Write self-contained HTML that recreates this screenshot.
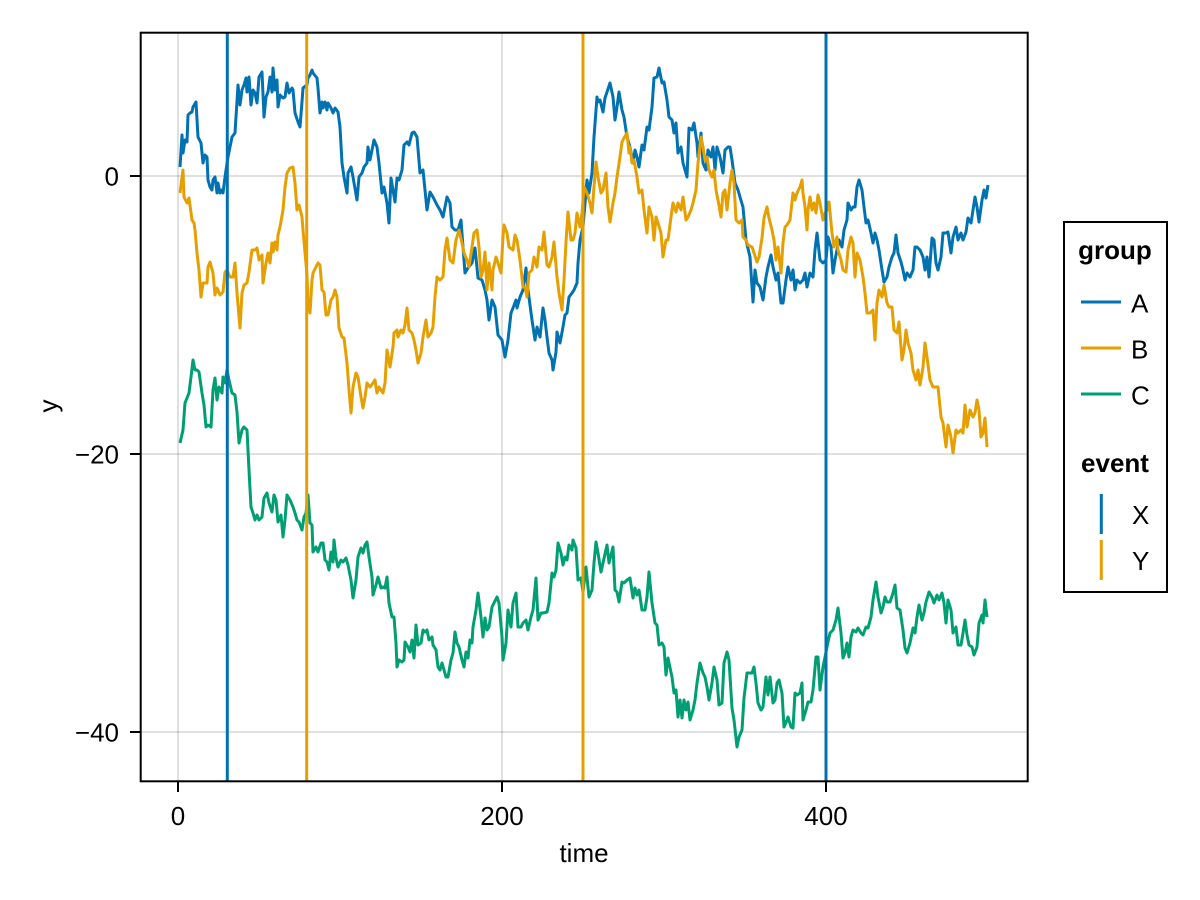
<!DOCTYPE html>
<html>
<head>
<meta charset="utf-8">
<style>
  html, body { margin: 0; padding: 0; background: #ffffff; }
  svg { display: block; }
  text { font-family: "Liberation Sans", "DejaVu Sans", sans-serif; fill: #000; }
</style>
</head>
<body>
<svg width="1200" height="900" viewBox="0 0 1200 900" xmlns="http://www.w3.org/2000/svg">
  <rect x="0" y="0" width="1200" height="900" fill="#ffffff"/>

  <!-- grid -->
  <g stroke="rgba(0,0,0,0.12)" stroke-width="2">
    <line x1="178" y1="32" x2="178" y2="781"/>
    <line x1="502" y1="32" x2="502" y2="781"/>
    <line x1="826" y1="32" x2="826" y2="781"/>
    <line x1="140" y1="176" x2="1028" y2="176"/>
    <line x1="140" y1="454" x2="1028" y2="454"/>
    <line x1="140" y1="732" x2="1028" y2="732"/>
  </g>

  <!-- series -->
  <g fill="none" stroke-width="3" stroke-linejoin="round" stroke-linecap="butt">
    <polyline stroke="#0072B2" points="180,167 182,135 183,153 185,140 187,142 188,115 190,113 192,112 193,107 196,102 198,137 201,143 203,163 205,155 207,157 208,180 210,187 212,190 213,180 215,177 217,193 218,183 220,193 222,190 223,193 225,177 228,157 232,137 235,133 238,85 240,105 242,90 244,85 246,78 247,92 249,77 251,105 253,90 255,93 257,103 259,77 262,72 264,117 266,97 268,92 270,77 272,92 273,68 275,90 277,80 278,107 280,95 283,98 285,97 287,83 289,93 292,88 293,90 295,113 298,122 300,127 302,102 303,88 307,85 308,78 310,75 312,70 313,73 317,78 318,88 320,113 322,102 323,108 325,102 327,110 328,103 331,108 333,113 335,108 338,112 340,127 342,163 344,177 347,193 348,173 351,167 353,177 357,200 359,177 362,173 364,167 367,163 368,147 370,160 372,150 374,140 377,147 379,163 382,193 384,187 387,203 389,223 391,178 393,190 395,202 397,178 399,180 402,170 404,145 407,142 409,145 412,133 414,132 417,137 420,173 423,170 425,190 427,210 430,192 433,197 437,205 440,210 443,217 447,197 450,203 452,227 455,230 458,230 461,220 463,247 465,273 468,268 472,263 475,248 478,278 482,280 485,290 487,300 489,320 492,300 495,307 498,335 502,340 505,357 508,340 511,313 513,308 516,300 517,308 520,297 523,290 526,268 528,290 532,320 535,340 537,327 540,337 543,308 545,320 547,337 549,353 552,360 553,370 556,352 557,332 560,343 563,327 565,315 567,313 569,297 572,293 574,290 577,283 578,263 580,240 583,227 587,180 589,193 592,173 594,137 597,97 598,102 600,100 603,112 605,98 607,92 610,83 613,97 615,120 617,107 619,92 622,110 624,117 627,137 630,147 633,163 635,150 637,157 639,167 642,145 644,150 647,127 649,130 652,107 654,78 657,77 659,68 662,83 664,82 667,100 669,117 672,120 674,133 676,123 678,153 681,147 683,163 687,177 689,128 692,130 694,123 697,143 698,157 701,133 703,163 706,170 708,150 711,157 713,147 715,170 717,147 720,157 723,173 725,150 728,147 730,147 732,160 735,183 738,190 740,197 743,207 746,240 750,257 753,302 755,270 757,283 760,287 763,300 766,277 768,267 771,255 773,267 776,280 778,273 781,303 783,303 786,280 788,267 791,280 793,270 795,290 797,280 800,283 803,280 805,273 807,287 810,273 813,277 815,250 817,233 820,260 823,263 826,260 828,237 831,247 833,273 835,260 837,250 839,240 842,247 844,230 847,220 848,203 851,210 853,207 855,207 857,187 859,180 862,190 864,207 866,223 868,220 871,233 873,243 875,233 877,240 879,250 882,270 884,282 887,277 889,267 892,257 894,253 896,235 898,253 901,262 903,270 905,280 907,273 910,277 913,270 915,247 917,247 920,250 923,257 925,270 927,257 929,277 932,238 934,240 936,263 938,270 941,257 943,233 946,233 948,232 951,253 953,237 956,227 958,240 961,233 963,240 966,232 968,218 971,223 973,210 975,197 977,207 979,222 982,200 984,190 986,198 988,185"/>
    <polyline stroke="#E69F00" points="180,193 183,170 184,197 187,203 189,198 192,220 194,223 195,230 197,253 199,270 201,297 203,283 207,283 208,267 210,262 213,273 215,295 217,288 220,295 223,292 225,272 227,270 230,277 233,277 235,263 237,293 240,328 242,293 244,285 247,283 249,272 252,250 255,250 257,248 259,260 262,255 263,283 266,263 268,253 270,263 272,243 273,252 275,242 277,250 278,235 280,227 283,210 285,187 287,173 290,168 293,167 295,183 297,210 299,205 302,217 303,230 307,275 308,302 310,313 312,280 313,273 316,267 318,263 320,265 322,290 324,292 326,315 328,315 331,300 333,297 335,290 337,297 339,328 342,337 344,338 347,363 349,390 351,413 353,387 356,373 358,377 361,397 363,408 365,397 367,383 370,387 373,383 375,380 377,393 379,387 383,393 385,383 387,350 390,367 393,347 394,333 397,330 398,337 401,330 403,333 405,325 407,308 409,330 412,333 414,340 416,350 418,363 421,353 423,337 426,320 428,337 431,333 433,327 435,297 437,277 440,280 443,277 445,250 447,238 450,260 453,263 456,240 459,230 462,243 464,253 467,260 469,267 472,247 474,233 477,230 479,247 481,277 483,270 485,252 487,290 489,263 492,290 493,270 496,257 498,263 501,273 503,237 504,225 507,233 509,247 513,250 515,235 517,240 520,260 523,287 525,287 527,297 529,273 532,270 534,257 537,267 539,247 542,250 544,232 547,265 549,267 552,257 554,242 557,277 559,293 562,310 564,280 566,242 568,212 571,240 573,240 575,233 577,213 580,227 582,213 584,187 587,193 590,203 592,213 594,187 596,162 598,177 601,193 603,190 606,173 608,207 610,222 613,203 615,193 617,177 620,157 622,142 624,138 627,133 629,153 630,147 632,163 634,160 637,177 639,193 642,190 644,210 647,233 649,207 652,217 654,240 656,217 658,223 661,233 663,257 666,240 668,240 671,217 673,203 676,212 678,203 681,210 683,197 686,220 688,217 691,210 693,203 696,190 698,163 701,137 703,147 705,160 707,157 709,170 712,177 714,170 716,190 718,200 721,217 723,193 725,190 727,210 730,183 732,170 734,183 736,220 739,223 742,220 743,237 746,240 748,245 752,247 754,253 757,262 759,257 762,238 764,218 767,207 769,218 772,230 774,240 776,260 778,247 781,273 783,243 785,227 787,225 790,220 793,193 795,200 797,193 800,187 802,180 803,193 805,207 807,230 808,210 810,197 812,210 814,203 816,213 818,195 820,203 823,220 825,213 827,210 829,202 832,233 834,247 837,237 838,250 841,260 843,270 846,272 848,250 851,237 853,243 855,277 857,253 860,260 863,277 865,293 867,313 870,313 873,310 875,340 877,303 879,290 882,297 884,285 887,303 889,307 892,307 894,330 897,333 899,322 902,360 904,350 906,330 908,343 911,353 913,370 916,380 918,370 920,385 923,367 925,343 927,357 930,380 933,387 938,387 941,417 943,423 946,447 948,425 951,437 953,453 956,430 958,433 961,430 963,433 965,405 967,427 970,410 973,417 975,413 977,400 979,410 981,437 983,433 985,418 987,447"/>
    <polyline stroke="#009E73" points="180,443 183,430 185,403 187,398 189,393 191,377 193,360 195,370 197,370 199,372 202,393 204,405 206,427 208,425 211,427 213,390 215,378 217,400 219,387 222,393 223,377 225,383 227,370 229,380 232,393 235,395 237,412 239,443 242,430 244,427 247,430 249,470 251,507 253,513 255,520 257,515 259,520 262,517 264,498 267,493 269,503 272,512 274,495 276,500 278,522 281,515 283,537 285,520 287,495 290,500 293,507 295,513 297,520 299,522 302,530 304,517 306,513 308,495 310,523 312,525 313,552 316,547 318,552 321,543 323,543 325,560 327,562 329,570 331,552 333,562 334,540 336,558 338,567 341,560 343,562 346,558 348,565 351,580 353,598 356,580 358,557 361,548 363,553 365,545 367,542 369,557 372,577 373,595 376,585 378,577 381,588 383,587 385,588 387,577 389,603 392,617 394,617 396,643 397,667 399,660 402,662 404,660 405,642 408,647 410,652 412,640 414,658 416,625 418,645 421,643 423,630 425,632 427,630 429,640 432,637 433,645 436,650 438,667 440,670 442,663 444,670 446,677 448,677 451,660 453,653 455,632 457,643 459,647 462,660 464,667 466,652 468,658 470,640 472,643 473,627 476,610 478,593 481,617 483,637 485,618 487,630 489,627 492,607 494,603 497,597 499,603 502,637 503,660 506,643 508,610 511,627 513,603 516,593 518,627 521,627 523,623 526,620 528,630 531,617 533,610 536,578 538,620 541,613 543,613 547,612 549,603 552,573 554,577 556,570 558,543 561,553 563,565 565,557 567,560 569,545 572,550 573,540 576,548 578,580 581,578 583,592 586,567 589,597 592,590 594,563 596,542 598,553 601,572 603,563 607,545 609,563 613,547 615,590 617,592 619,602 622,582 624,583 627,580 630,578 633,598 635,588 637,595 639,590 642,610 645,610 647,597 649,572 652,603 655,623 657,625 659,645 662,643 664,647 666,675 668,658 672,677 674,693 676,690 678,717 680,700 682,718 684,700 686,710 688,702 690,720 693,710 695,700 697,683 700,663 703,673 705,677 707,687 709,700 712,683 714,667 717,680 719,705 722,703 724,663 727,652 729,660 732,708 734,720 737,747 739,737 742,730 744,698 747,673 749,673 752,673 754,667 756,683 758,703 761,710 763,707 766,677 768,695 770,677 773,703 775,700 777,683 779,680 782,693 784,727 787,720 788,717 791,727 793,728 795,693 797,695 800,693 802,683 803,720 806,710 808,702 811,702 813,690 816,657 818,657 820,690 823,667 825,657 827,647 830,633 833,630 836,620 838,608 841,633 843,658 845,653 847,643 849,657 851,637 853,630 856,632 858,628 861,633 863,635 866,627 868,628 871,617 873,600 876,582 878,597 881,613 883,607 885,597 887,602 890,602 893,593 895,585 897,608 900,610 903,630 905,648 907,653 910,643 913,628 915,633 917,617 919,605 922,620 924,613 926,602 929,592 932,597 934,603 937,595 939,600 942,593 944,603 946,623 948,600 951,610 953,633 956,627 958,645 961,645 963,633 965,620 967,635 969,645 972,647 974,655 977,647 979,623 982,615 983,623 985,600 987,617"/>
  </g>

  <!-- event vertical lines -->
  <g stroke-width="3">
    <line x1="227.3" y1="32" x2="227.3" y2="781" stroke="#0072B2"/>
    <line x1="306.7" y1="32" x2="306.7" y2="781" stroke="#E69F00"/>
    <line x1="583" y1="32" x2="583" y2="781" stroke="#E69F00"/>
    <line x1="826" y1="32" x2="826" y2="781" stroke="#0072B2"/>
  </g>

  <!-- frame -->
  <rect x="140.7" y="32.7" width="887" height="748.6" fill="none" stroke="#000" stroke-width="2"/>

  <!-- ticks -->
  <g stroke="#000" stroke-width="2">
    <line x1="178" y1="782" x2="178" y2="792"/>
    <line x1="502" y1="782" x2="502" y2="792"/>
    <line x1="826" y1="782" x2="826" y2="792"/>
    <line x1="130" y1="176" x2="140" y2="176"/>
    <line x1="130" y1="454" x2="140" y2="454"/>
    <line x1="130" y1="732" x2="140" y2="732"/>
  </g>

  <!-- tick labels -->
  <g font-size="26">
    <text x="178" y="825" text-anchor="middle">0</text>
    <text x="502" y="825" text-anchor="middle">200</text>
    <text x="826" y="825" text-anchor="middle">400</text>
    <text x="119" y="185.5" text-anchor="end">0</text>
    <text x="119" y="463.5" text-anchor="end">−20</text>
    <text x="119" y="741.5" text-anchor="end">−40</text>
  </g>

  <!-- axis labels -->
  <text x="584" y="862" font-size="26" text-anchor="middle">time</text>
  <text x="0" y="0" font-size="26" text-anchor="middle" transform="translate(57,406) rotate(-90)">y</text>

  <!-- legend -->
  <rect x="1064" y="222" width="103" height="370" fill="#ffffff" stroke="#000" stroke-width="2"/>
  <text x="1115" y="259" font-size="26" font-weight="bold" text-anchor="middle">group</text>
  <line x1="1081" y1="302" x2="1121" y2="302" stroke="#0072B2" stroke-width="3"/>
  <text x="1131" y="312.5" font-size="26">A</text>
  <line x1="1081" y1="348" x2="1121" y2="348" stroke="#E69F00" stroke-width="3"/>
  <text x="1131" y="358.5" font-size="26">B</text>
  <line x1="1081" y1="394" x2="1121" y2="394" stroke="#009E73" stroke-width="3"/>
  <text x="1131" y="404.5" font-size="26">C</text>
  <text x="1115" y="472" font-size="26" font-weight="bold" text-anchor="middle">event</text>
  <line x1="1101.3" y1="494" x2="1101.3" y2="534" stroke="#0072B2" stroke-width="3"/>
  <text x="1132" y="524" font-size="26">X</text>
  <line x1="1101.3" y1="540" x2="1101.3" y2="580" stroke="#E69F00" stroke-width="3"/>
  <text x="1132" y="570" font-size="26">Y</text>
</svg>
</body>
</html>
